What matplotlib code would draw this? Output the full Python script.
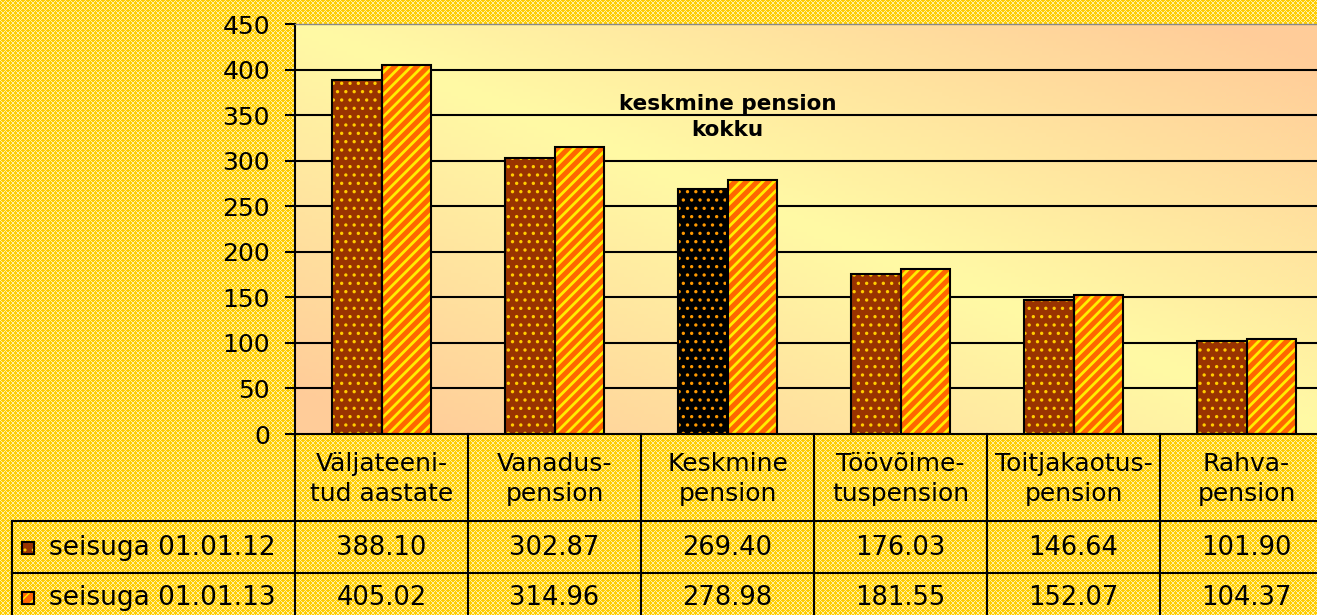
import matplotlib.pyplot as plt
import numpy as np

# andmed
categories = ['Väljateeni-\ntud aastate', 'Vanadus-\npension', 'Keskmine\npension',
              'Töövõime-\ntuspension', 'Toitjakaotus-\npension', 'Rahva-\npension']
series_names = ['seisuga 01.01.12', 'seisuga 01.01.13']
values_2012 = [388.10, 302.87, 269.40, 176.03, 146.64, 101.90]
values_2013 = [405.02, 314.96, 278.98, 181.55, 152.07, 104.37]
y_ticks = list(range(0, 451, 50))
note = 'keskmine pension\nkokku'

W, H = 1317, 615
plt.rcParams['font.family'] = 'DejaVu Sans'

fig = plt.figure(figsize=(W / 100, H / 100), dpi=100)

# kuldne ruudustik taustaks
yy, xx = np.mgrid[0:H, 0:W]
mesh = ((xx + yy) % 5 == 0) | ((xx - yy) % 5 == 0)
bg = np.zeros((H, W, 3))
bg[:] = np.array([255, 204, 0]) / 255
bg[mesh] = np.array([255, 240, 160]) / 255
fig.figimage(bg, 0, 0, zorder=-10)

# joonise ala
ax = fig.add_axes([295 / W, (H - 434) / H, (1333 - 295) / W, (434 - 24) / H])
ax.set_xlim(-0.5, 5.5)
ax.set_ylim(0, 450)

pale = np.array([255, 250, 165]) / 255
peach = np.array([255, 204, 153]) / 255
u, v = np.meshgrid(np.linspace(0, 1, 300), np.linspace(0, 1, 120))
t = np.clip(np.abs(u + v - 1) * 1.1, 0, 1)[..., None]
grad = pale + (peach - pale) * t
ax.imshow(grad, extent=(-0.5, 5.5, 0, 450), aspect='auto', origin='lower', zorder=0)

for y in y_ticks[1:-1]:
    ax.axhline(y, color='black', lw=1.5, zorder=1)

x = np.arange(len(categories))
w = 0.285
face1 = ['#993300'] * len(categories)
dots1 = ['#FFCC00'] * len(categories)
face1[2] = 'black'
dots1[2] = '#FF9900'

b1 = ax.bar(x - w / 2, values_2012, w, color=face1, edgecolor=dots1, hatch='..', linewidth=0, zorder=2)
b2 = ax.bar(x + w / 2, values_2013, w, color='#FF6600', edgecolor='#FFEE00', hatch='///', linewidth=0, zorder=2)
for p in b1:
    if hasattr(p, 'set_hatch_linewidth'):
        p.set_hatch_linewidth(1.2)
for p in b2:
    if hasattr(p, 'set_hatch_linewidth'):
        p.set_hatch_linewidth(2.0)
ax.bar(x - w / 2, values_2012, w, fill=False, edgecolor='black', linewidth=1.5, zorder=3)
ax.bar(x + w / 2, values_2013, w, fill=False, edgecolor='black', linewidth=1.5, zorder=3)

ax.text(2, 348, note, ha='center', va='center', fontsize=15.5, fontweight='bold', linespacing=1.4)

ax.set_yticks(y_ticks)
ax.set_xticks([])
ax.tick_params(axis='y', direction='out', length=7, width=1.5, pad=11, labelsize=18)
ax.spines['left'].set_linewidth(1.5)
ax.spines['bottom'].set_linewidth(1.5)
ax.spines['right'].set_visible(False)
ax.spines['top'].set_color('#888888')
ax.spines['top'].set_linewidth(1)

# andmetabel
leg_w = (295 - 12) / 173
x0 = -0.5 - leg_w
tab = fig.add_axes([12 / W, 0, (1333 - 12) / W, (H - 434) / H])
tab.set_xlim(x0, 5.5)
tab.set_ylim(H, 434)
tab.axis('off')

for yl in [521, 573]:
    tab.plot([x0, 5.5], [yl, yl], color='black', lw=1.5, clip_on=False)
for i in range(len(categories) + 1):
    tab.plot([i - 0.5, i - 0.5], [434, H], color='black', lw=1.5, clip_on=False)
tab.plot([x0, x0], [521, H], color='black', lw=1.5, clip_on=False)

for i, c in enumerate(categories):
    tab.text(i, 479, c, ha='center', va='center', fontsize=18, linespacing=1.28)
    tab.text(i, 548, f'{values_2012[i]:.2f}', ha='center', va='center', fontsize=18.5)
    tab.text(i, 598, f'{values_2013[i]:.2f}', ha='center', va='center', fontsize=18.5)

px = 1 / 173
rows = [(548, '#993300', '#FFCC00', '..', series_names[0]),
        (598, '#FF6600', '#FFEE00', '///', series_names[1])]
for yc, fc, hc, hatch, name in rows:
    tab.bar(x0 + 10 * px, 12, 12 * px, bottom=yc - 6, align='edge', color=fc,
            edgecolor=hc, hatch=hatch, linewidth=0)
    tab.bar(x0 + 10 * px, 12, 12 * px, bottom=yc - 6, align='edge', fill=False,
            edgecolor='black', linewidth=1.5)
    tab.text(x0 + 37 * px, yc, name, ha='left', va='center', fontsize=19)

fig.savefig('out.png', dpi=100)
